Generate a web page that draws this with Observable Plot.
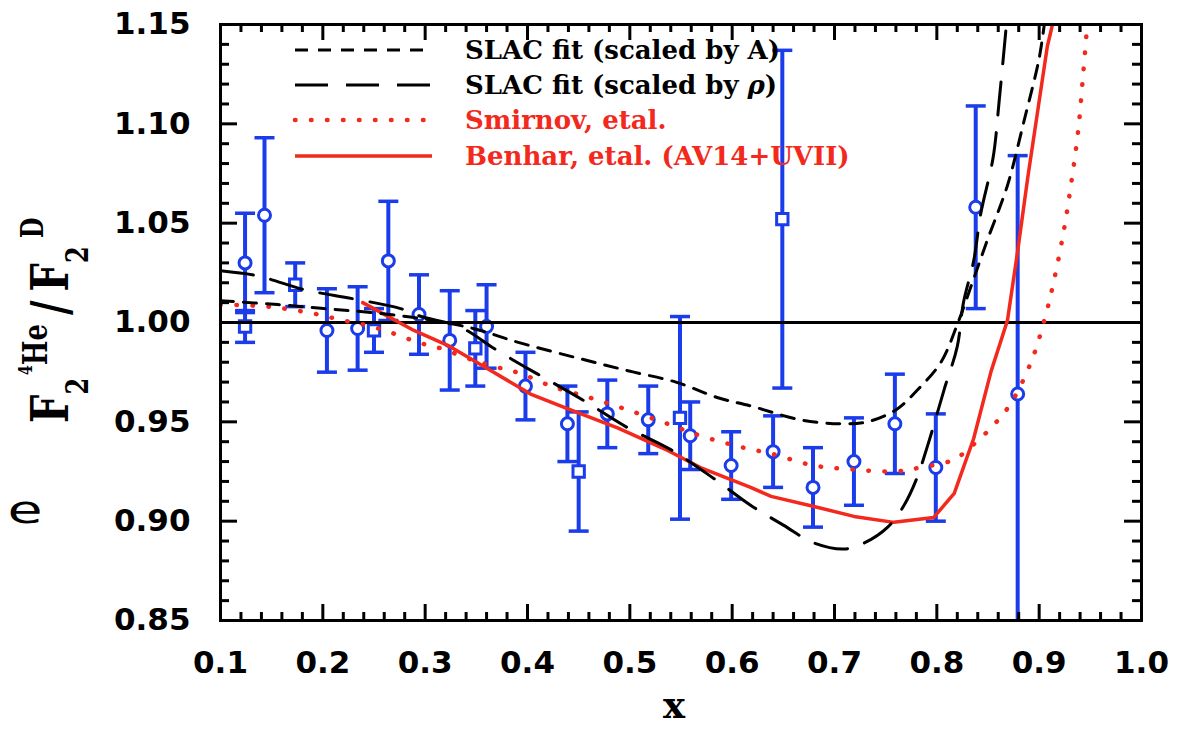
<!DOCTYPE html>
<html><head><meta charset="utf-8">
<script src="https://cdn.jsdelivr.net/npm/d3@7"></script>
<script src="https://cdn.jsdelivr.net/npm/@observablehq/plot@0.6"></script>
<style>
html,body{margin:0;padding:0;background:#fff;}
#chart{position:relative;width:1182px;height:729px;overflow:hidden;}
</style>
</head><body><div id="chart"></div>
<script>
// ---- data ----
const xTicks = [0.1,0.2,0.3,0.4,0.5,0.6,0.7,0.8,0.9,1.0];
const yTicks = [0.85,0.90,0.95,1.00,1.05,1.10,1.15];

// open circles
const circX   = [0.124,0.143,0.204,0.234,0.264,0.294,0.324,0.360,0.398,0.439,0.478,0.518,0.559,0.599,0.640,0.679,0.719,0.759,0.799,0.838,0.879];
const circY   = [1.030,1.054,0.996,0.997,1.031,1.004,0.991,0.998,0.968,0.949,0.954,0.951,0.943,0.928,0.935,0.917,0.930,0.949,0.927,1.058,0.964];
const circErr = [0.025,0.039,0.021,0.021,0.030,0.020,0.025,0.021,0.017,0.019,0.017,0.017,0.017,0.017,0.018,0.020,0.022,0.025,0.027,0.051,0.120];
// open squares
const sqX   = [0.124,0.173,0.250,0.349,0.450,0.549,0.649];
const sqY   = [0.998,1.019,0.996,0.987,0.925,0.952,1.052];
const sqErr = [0.008,0.011,0.011,0.019,0.030,0.051,0.085];

// SLAC fit (scaled by A) - short dashes
const slacAX = [0.100,0.156,0.201,0.247,0.296,0.347,0.391,0.465,0.504,0.545,0.587,0.618,0.667,0.706,0.732,0.760,0.781,0.804,0.820,0.836,0.849,0.869,0.885,0.900,0.905];
const slacAY = [1.011,1.009,1.007,1.005,1.002,0.997,0.990,0.980,0.975,0.970,0.962,0.958,0.951,0.949,0.950,0.956,0.966,0.980,0.999,1.022,1.041,1.069,1.101,1.133,1.150];
// SLAC fit (scaled by rho) - long dashes
const slacRX = [0.100,0.131,0.147,0.178,0.196,0.229,0.276,0.293,0.335,0.367,0.393,0.410,0.454,0.498,0.540,0.582,0.618,0.650,0.680,0.710,0.729,0.752,0.768,0.780,0.791,0.807,0.820,0.826,0.836,0.843,0.855,0.861,0.868];
const slacRY = [1.026,1.024,1.022,1.017,1.015,1.012,1.007,1.0035,0.9975,0.987,0.979,0.974,0.961,0.947,0.936,0.9215,0.908,0.898,0.889,0.886,0.889,0.897,0.908,0.921,0.938,0.966,0.988,1.010,1.031,1.055,1.083,1.112,1.150];
// Smirnov, etal. - dotted
const smirX = [0.100,0.146,0.191,0.220,0.244,0.269,0.293,0.315,0.347,0.374,0.393,0.423,0.462,0.498,0.537,0.569,0.611,0.638,0.680,0.719,0.758,0.784,0.817,0.830,0.853,0.872,0.892,0.905,0.914,0.924,0.931,0.938,0.943,0.947];
const smirY = [1.009,1.008,1.0045,1.001,0.9985,0.9945,0.990,0.987,0.981,0.977,0.9744,0.968,0.962,0.956,0.949,0.943,0.937,0.934,0.928,0.926,0.925,0.927,0.931,0.936,0.947,0.959,0.980,1.001,1.020,1.046,1.069,1.096,1.125,1.150];
// Benhar, etal. (AV14+UVII) - solid
const benX = [0.239,0.289,0.322,0.347,0.403,0.439,0.488,0.537,0.569,0.618,0.638,0.680,0.719,0.758,0.797,0.817,0.836,0.853,0.869,0.879,0.889,0.899,0.908,0.913];
const benY = [1.010,0.996,0.9885,0.981,0.964,0.9567,0.947,0.9356,0.927,0.917,0.9125,0.9074,0.9024,0.8994,0.9019,0.914,0.9416,0.9754,1.001,1.036,1.0735,1.108,1.139,1.150];

const legendLabels = ["SLAC fit (scaled by A)","SLAC fit (scaled by ρ)","Smirnov, etal.","Benhar, etal. (AV14+UVII)"];

// ---- build ----
const W=1182,H=729,mL=220,mR=41,mT=24,mB=109;
const PW=W-mL-mR, PH=H-mT-mB;
const blue="#1a3cea", red="#f2291c";

const zip=(xs,ys)=>xs.map((x,i)=>({x,y:ys[i]}));
const circles = circX.map((x,i)=>({x,y:circY[i],e:circErr[i]}));
const squares = sqX.map((x,i)=>({x,y:sqY[i],e:sqErr[i]}));
const bars = circles.concat(squares);
const caps = bars.flatMap(d=>[{x:d.x,y:d.y+d.e},{x:d.x,y:d.y-d.e}]);
const capSymbol = {draw(ctx,size){const w=Math.sqrt(size/Math.PI);ctx.moveTo(-w,0);ctx.lineTo(w,0);}};

const xMinor = d3.range(0.1,1.0001,0.02).filter(v=>Math.abs(Math.round(v*10)-v*10)>1e-6);
const yMinor = d3.range(0.85,1.1501,0.01).filter(v=>Math.abs(Math.round(v*20)-v*20)>1e-6);

const fmtX = d3.format(".1f"), fmtY = d3.format(".2f");

const plot = Plot.plot({
  width:W, height:H, marginLeft:mL, marginRight:mR, marginTop:mT, marginBottom:mB,
  style:{fontFamily:"DejaVu Sans", fontSize:"31px", fontWeight:"bold", color:"black", background:"white", overflow:"visible"},
  x:{domain:[0.1,1.0]},
  y:{domain:[0.85,1.15]},
  marks:[
    Plot.ruleX(bars,{x:"x",y1:d=>d.y-d.e,y2:d=>d.y+d.e,stroke:blue,strokeWidth:4,clip:true}),
    Plot.dot(caps,{x:"x",y:"y",symbol:capSymbol,r:10,stroke:blue,strokeWidth:3.5,fill:"none",clip:true}),
    Plot.dot(circles,{x:"x",y:"y",symbol:"circle",r:6,stroke:blue,strokeWidth:3,fill:"white"}),
    Plot.dot(squares,{x:"x",y:"y",symbol:"square",r:6.4,stroke:blue,strokeWidth:3,fill:"white"}),
    Plot.ruleY([1.0],{stroke:"black",strokeWidth:3}),
    Plot.line(zip(smirX,smirY),{x:"x",y:"y",stroke:red,strokeWidth:4.5,strokeDasharray:"0.5,15.5",strokeLinecap:"round",curve:"catmull-rom",clip:true}),
    Plot.line(zip(benX,benY),{x:"x",y:"y",stroke:red,strokeWidth:3.5,curve:"linear",clip:true}),
    Plot.line(zip(slacAX,slacAY),{x:"x",y:"y",stroke:"black",strokeWidth:3,strokeDasharray:"13,10",curve:"catmull-rom",clip:true}),
    Plot.line(zip(slacRX,slacRY),{x:"x",y:"y",stroke:"black",strokeWidth:3,strokeDasharray:"33,18",curve:"catmull-rom",clip:true}),
    // inward ticks on all four sides
    Plot.tickX(xTicks,{x:d=>d,insetTop:PH-16,strokeWidth:3}),
    Plot.tickX(xTicks,{x:d=>d,insetBottom:PH-16,strokeWidth:3}),
    Plot.tickX(xMinor,{x:d=>d,insetTop:PH-8,strokeWidth:3}),
    Plot.tickX(xMinor,{x:d=>d,insetBottom:PH-8,strokeWidth:3}),
    Plot.tickY(yTicks,{y:d=>d,insetRight:PW-17,strokeWidth:3}),
    Plot.tickY(yTicks,{y:d=>d,insetLeft:PW-17,strokeWidth:3}),
    Plot.tickY(yMinor,{y:d=>d,insetRight:PW-9,strokeWidth:3}),
    Plot.tickY(yMinor,{y:d=>d,insetLeft:PW-9,strokeWidth:3}),
    Plot.axisX({ticks:xTicks,tickSize:0,tickPadding:30,tickFormat:fmtX,label:null}),
    Plot.axisY({ticks:yTicks,tickSize:0,tickPadding:30,tickFormat:fmtY,label:null}),
    Plot.frame({stroke:"black",strokeWidth:3})
  ]
});
document.getElementById("chart").appendChild(plot);

// ---- overlay texts: legend, axis titles ----
const svg = d3.select(plot);
const g = svg.append("g").attr("font-weight","bold").attr("text-anchor","start");

const legendRows = [
  {color:"black", dash:"13,10", w:3, cap:"butt", y:50},
  {color:"black", dash:"33,18", w:3, cap:"butt", y:85},
  {color:red, dash:"0.5,15.5", w:4.5, cap:"round", y:120},
  {color:red, dash:null, w:3.5, cap:"butt", y:156}
];
legendRows.forEach((r,i)=>{
  g.append("line").attr("x1",295).attr("x2",432).attr("y1",r.y).attr("y2",r.y)
    .attr("stroke",r.color).attr("stroke-width",r.w).attr("stroke-linecap",r.cap)
    .attr("stroke-dasharray",r.dash);
  const t = g.append("text").attr("x",465).attr("y",r.y+9).attr("text-anchor","start")
    .attr("font-family","DejaVu Serif").attr("font-size",26).attr("fill",r.color);
  const lab = legendLabels[i];
  if (lab.includes("ρ")) {
    const [a,b] = lab.split("ρ");
    t.append("tspan").text(a);
    t.append("tspan").attr("font-style","italic").text("ρ");
    t.append("tspan").text(b);
  } else t.text(lab);
});

// x title
g.append("text").attr("x",674).attr("y",718).attr("text-anchor","middle")
  .attr("font-family","DejaVu Serif").attr("font-size",37).text("x");

// y title
const yl = g.append("text").attr("transform","translate(68,423) rotate(-90) scale(1,1.3)")
  .attr("text-anchor","start")
  .attr("font-family","DejaVu Serif").attr("font-size",40).attr("fill","black");
yl.append("tspan").text("F");
yl.append("tspan").attr("font-size",24).attr("dy",15).text("2");
yl.append("tspan").attr("font-size",14).attr("dy",-43).attr("dx",3).text("4");
yl.append("tspan").attr("font-size",26).attr("dy",12).text("He");
yl.append("tspan").attr("dy",16).attr("dx",9).text("/");
yl.append("tspan").attr("dx",9).text("F");
yl.append("tspan").attr("font-size",24).attr("dy",15).text("2");
yl.append("tspan").attr("font-size",24).attr("dy",-34).attr("dx",8).text("D");

// stray "e" at left
g.append("text").attr("transform","translate(25,523) scale(1.5,1)").attr("text-anchor","middle")
  .attr("font-family","DejaVu Sans").attr("font-weight","normal").attr("font-size",38).text("e");
</script>
</body></html>
